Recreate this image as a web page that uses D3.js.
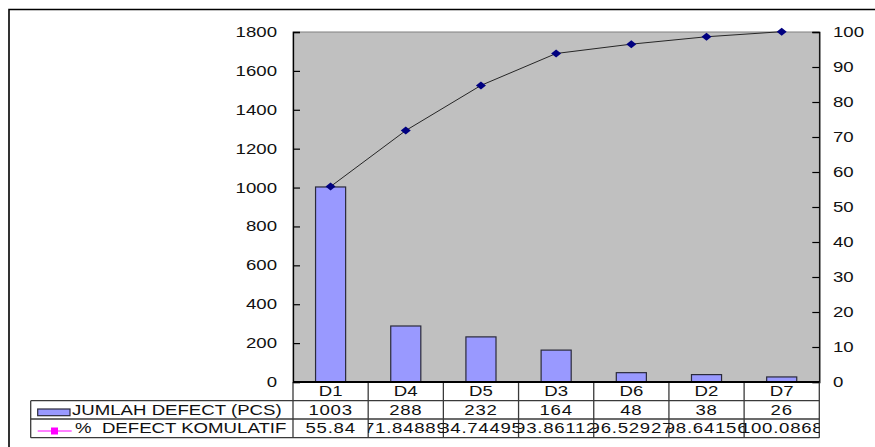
<!DOCTYPE html>
<html>
<head>
<meta charset="utf-8">
<script src="https://cdn.jsdelivr.net/npm/d3@7"></script>
<style>
  html, body { margin: 0; padding: 0; background: #fff; }
  svg { display: block; }
  text { font-family: "Liberation Sans", Arial, sans-serif; font-size: 14px; fill: #111; }
  .cellnum { letter-spacing: 0.55px; }
</style>
</head>
<body>
<svg id="chart" width="875" height="447"></svg>
<script>
// Pareto data: defect counts per category and cumulative percentage
const categories = ["D1", "D4", "D5", "D3", "D6", "D2", "D7"];
const defectCounts = [1003, 288, 232, 164, 48, 38, 26];
const cumulativePct = [55.84, 71.84889, 84.74495, 93.86112, 96.52927, 98.64156, 100.0868];
const leftTicks = [0, 200, 400, 600, 800, 1000, 1200, 1400, 1600, 1800];
const rightTicks = [0, 10, 20, 30, 40, 50, 60, 70, 80, 90, 100];
const seriesNames = ["JUMLAH DEFECT (PCS)", "%  DEFECT KOMULATIF"];

const W = 875, H = 447;
const plot = { left: 293, right: 819.3, top: 32, bottom: 382 };
const rowEdges = [382, 400.7, 419, 437.7];
const tableLeft = 30.7;
const sx = 1.33; // horizontal stretch of all lettering

const svg = d3.select("#chart");

const x = d3.scaleBand().domain(categories).range([plot.left, plot.right]).padding(0);
const yL = d3.scaleLinear().domain([0, 1800]).range([plot.bottom, plot.top]);
const yR = d3.scaleLinear().domain([0, 100]).range([plot.bottom, plot.top]);

function label(g, str, px, py, anchor) {
  return g.append("text")
    .attr("transform", `translate(${px},${py}) scale(${sx},1)`)
    .attr("text-anchor", anchor)
    .text(str);
}

// outer chart frame
svg.append("path")
  .attr("d", `M9,${H} V9.5 H${W}`)
  .attr("fill", "none").attr("stroke", "#000").attr("stroke-width", 1.6);

// plot area
svg.append("rect")
  .attr("x", plot.left).attr("y", plot.top)
  .attr("width", plot.right - plot.left).attr("height", plot.bottom - plot.top)
  .attr("fill", "#c0c0c0").attr("stroke", "#808080").attr("stroke-width", 1);

// bars
const barW = x.bandwidth() * 0.4;
svg.append("g").selectAll("rect")
  .data(categories)
  .join("rect")
  .attr("x", (d) => x(d) + (x.bandwidth() - barW) / 2)
  .attr("y", (d, i) => yL(defectCounts[i]))
  .attr("width", barW)
  .attr("height", (d, i) => yL(0) - yL(defectCounts[i]))
  .attr("fill", "#9999ff")
  .attr("stroke", "#2a2a3a")
  .attr("stroke-width", 1.2);

// axes (ticks point into the plot)
const leftAxis = d3.axisRight(yL).tickValues(leftTicks).tickSize(7).tickFormat("");
const rightAxis = d3.axisLeft(yR).tickValues(rightTicks).tickSize(7).tickFormat("");
const gL = svg.append("g").attr("transform", `translate(${plot.left},0)`).call(leftAxis);
const gR = svg.append("g").attr("transform", `translate(${plot.right},0)`).call(rightAxis);
[gL, gR].forEach((g) => {
  g.select(".domain").attr("stroke", "#000").attr("stroke-width", 1.3);
  g.selectAll(".tick line").attr("stroke", "#000").attr("stroke-width", 1.2);
});

// axis labels
const labL = svg.append("g");
leftTicks.forEach((t) => label(labL, String(t), 277, yL(t) + 5, "end"));
const labR = svg.append("g");
rightTicks.forEach((t) => label(labR, String(t), 833, yR(t) + 5, "start"));

// cumulative line
const cx = (d) => x(d) + x.bandwidth() / 2;
svg.append("path")
  .datum(categories)
  .attr("d", d3.line().x(cx).y((d, i) => yR(cumulativePct[i])))
  .attr("fill", "none").attr("stroke", "#262626").attr("stroke-width", 1);

const diamond = "M0,-4 L5,0 L0,4 L-5,0 Z";
svg.append("g").selectAll("path")
  .data(categories)
  .join("path")
  .attr("transform", (d, i) => `translate(${cx(d)},${yR(cumulativePct[i])})`)
  .attr("d", diamond)
  .attr("fill", "#000080");

// data table grid
const grid = svg.append("g").attr("stroke", "#3a3a3a").attr("stroke-width", 1.3).attr("fill", "none");
rowEdges.slice(1).forEach((ry) => {
  grid.append("line").attr("x1", tableLeft).attr("x2", plot.right).attr("y1", ry).attr("y2", ry);
});
grid.append("line").attr("x1", tableLeft).attr("x2", tableLeft).attr("y1", rowEdges[1]).attr("y2", rowEdges[3]);
const colEdges = categories.map((c) => x(c)).concat([plot.right]);
colEdges.forEach((cxx) => {
  grid.append("line").attr("x1", cxx).attr("x2", cxx).attr("y1", rowEdges[0]).attr("y2", rowEdges[3]);
});
// category axis line
svg.append("line")
  .attr("x1", plot.left).attr("x2", plot.right).attr("y1", plot.bottom).attr("y2", plot.bottom)
  .attr("stroke", "#000").attr("stroke-width", 2);

// clip regions for each table cell
const defs = svg.append("defs");
categories.forEach((c, i) => {
  defs.append("clipPath").attr("id", "cell" + i)
    .append("rect")
    .attr("x", x(c)).attr("y", rowEdges[0])
    .attr("width", x.bandwidth()).attr("height", rowEdges[3] - rowEdges[0]);
});

const rowMid = (r) => (rowEdges[r] + rowEdges[r + 1]) / 2 + 5;
const cells = svg.append("g");
categories.forEach((c, i) => {
  const g = cells.append("g").attr("clip-path", `url(#cell${i})`);
  const mid = x(c) + x.bandwidth() / 2;
  label(g, c, mid, rowMid(0), "middle");
  label(g, String(defectCounts[i]), mid, rowMid(1), "middle").attr("class", "cellnum");
  label(g, String(cumulativePct[i]), mid, rowMid(2), "middle").attr("class", "cellnum");
});

// legend keys inside the table header cells
const leg = svg.append("g");
leg.append("rect")
  .attr("x", 37.7).attr("y", 409).attr("width", 32.3).attr("height", 6.7)
  .attr("fill", "#9999ff").attr("stroke", "#2a2a3a").attr("stroke-width", 1.2);
leg.append("line")
  .attr("x1", 37.7).attr("x2", 71.7).attr("y1", 431).attr("y2", 431)
  .attr("stroke", "#ff00ff").attr("stroke-width", 1.2);
leg.append("rect")
  .attr("x", 51).attr("y", 427.5).attr("width", 7).attr("height", 7)
  .attr("fill", "#ff00ff");
label(leg, seriesNames[0], 72, rowMid(1), "start");
label(leg, seriesNames[1], 75, rowMid(2), "start").style("white-space", "pre");
</script>
</body>
</html>
